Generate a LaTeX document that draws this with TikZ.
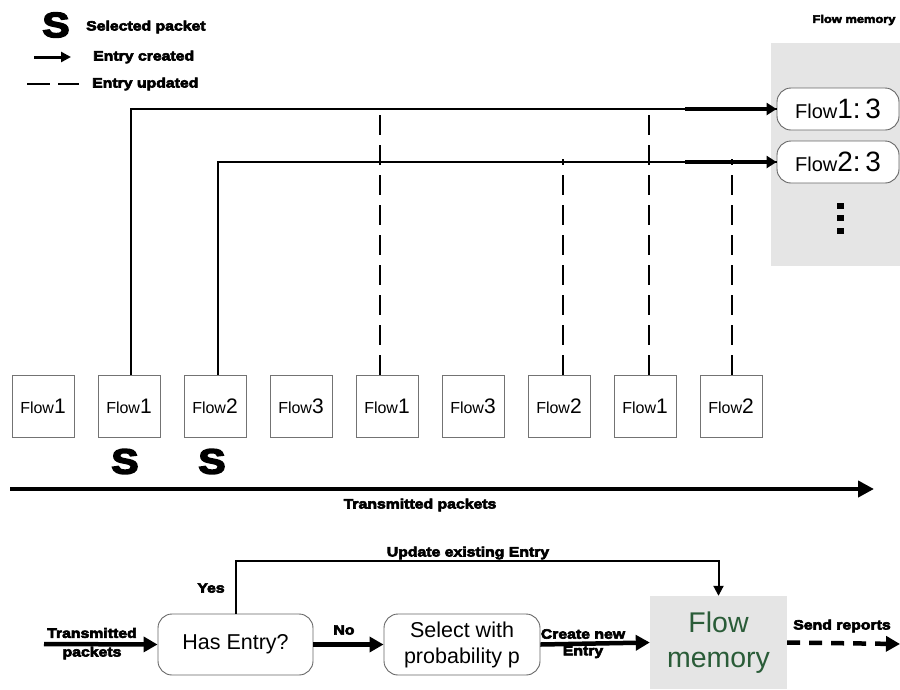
\documentclass[tikz,border=0pt]{standalone}
\usepackage{fontspec}
\setmainfont{Liberation Sans}
\newfontfamily\heavy{Liberation Sans}[UprightFont=*-Bold, FakeStretch=1.17, FakeBold=4.5]
\usetikzlibrary{arrows.meta,calc}

% "Flow" in a small size followed by a larger digit
\newcommand\flowtxt[3]{{\fontsize{#1}{#1}\selectfont Flow}{\fontsize{#2}{#2}\selectfont #3}}

\definecolor{memgreen}{RGB}{42,92,56}

\tikzset{
  pkt/.style={draw=black!55, line width=0.9pt, minimum width=62pt, minimum height=62pt, inner sep=0pt},
  lbl/.style={font=\heavy\fontsize{13.5}{14}\selectfont, inner sep=0pt},
  bigS/.style={font=\heavy\fontsize{35}{35}\selectfont, inner sep=0pt},
  memslot/.style={draw=black!60, fill=white, rounded corners=14pt, line width=0.9pt,
    minimum width=122pt, minimum height=42pt, inner sep=0pt},
  stage/.style={draw=black!60, rounded corners=14pt, line width=0.9pt,
    minimum width=155pt, minimum height=61pt, inner sep=0pt, align=center,
    font=\fontsize{21.5}{26}\selectfont},
  thin/.style={line width=1.8pt},
  upd/.style={line width=2.2pt, dash pattern=on 20pt off 10pt},
  fat/.style={line width=4.5pt, -{Triangle[length=14pt,width=15pt]}},
  mid/.style={line width=3.2pt, -{Triangle[length=10pt,width=12pt]}},
}

\begin{document}
\begin{tikzpicture}[x=1pt,y=-1pt]
\useasboundingbox (0,0) rectangle (900,689);

% ---------- legend ----------
\node[bigS] (legS) at (56,25) {S};
\node[lbl, anchor=west] (legSel) at (86,27) {Selected packet};
\coordinate (legA1) at (34,57);
\coordinate (legA2) at (71,57);
\draw[line width=3pt, -{Triangle[length=10pt,width=10pt]}] (legA1) -- (legA2);
\node[lbl, anchor=west] (legCre) at (93,57) {Entry created};
\coordinate (legD1) at (27,84);
\coordinate (legD2) at (79,84);
\draw[line width=2pt, dash pattern=on 23pt off 8pt] (legD1) -- (legD2);
\node[lbl, anchor=west] (legUpd) at (92,84) {Entry updated};

% ---------- flow memory (top) ----------
\node[font=\heavy\fontsize{11}{12}\selectfont, inner sep=0pt] (memtitle) at (854,20) {Flow memory};
\fill[black!10] (771,43) rectangle (900,266);
\node[memslot] (f1) at (838,109) {\flowtxt{20}{28}{1:\,3}};
\node[memslot] (f2) at (838,162) {\flowtxt{20}{28}{2:\,3}};
\foreach \yy in {203,215,228}
  \fill (837,\yy) rectangle (844,\yy+6);

% ---------- packet stream ----------
\foreach \i/\n in {1/1,2/1,3/2,4/3,5/1,6/3,7/2,8/1,9/2}
  \node[pkt] (p\i) at ({43+86*(\i-1)},406) {\flowtxt{16}{21}{\n}};

\node[bigS] (s1) at (125,461.5) {S};
\node[bigS] (s2) at (212,461.5) {S};

\coordinate (tl0) at (10,489);
\coordinate (tl1) at (874,489);
\draw[line width=4.5pt, -{Triangle[length=16pt,width=16pt]}] (tl0) -- (tl1);
\node[lbl] (tltxt) at (420,505) {Transmitted packets};

% entries created
\coordinate (c1) at ($(p2.north)+(2,0)$);
\coordinate (c2) at ($(p3.north)+(3,0)$);
\draw[thin] (c1) |- (f1.west);
\draw[thin] (c2) |- (f2.west);
\draw[mid] (685,109) -- (f1.west);
\draw[mid] (685,162) -- (f2.west);

% entries updated
\draw[upd] ($(p5.north)+(-7,0)$) -- ++(0,-270);
\draw[upd] ($(p7.north)+(4,0)$) -- ++(0,-216);
\draw[upd] ($(p8.north)+(4,0)$) -- ++(0,-270);
\draw[upd] ($(p9.north)+(1,0)$) -- ++(0,-216);

% ---------- processing pipeline ----------
\node[stage] (has) at (235.5,644.5) {Has Entry?};
\node[stage, minimum width=156pt] (sel) at (462,644.5) {Select with\\probability p};
\node[fill=black!10, minimum width=137pt, minimum height=93pt, inner sep=0pt, align=center,
      text=memgreen, font=\fontsize{28.5}{35}\selectfont] (mem) at (718.5,642.5) {Flow\\memory};

\coordinate (in) at (44,644);
\coordinate (out) at (900,644);
\draw[fat] (in) -- (has.west);
\node[lbl] (intxt1) at (92,633) {Transmitted};
\node[lbl] (intxt2) at (92,653) {packets};

\draw[fat] (has.east) -- (sel.west);
\node[lbl] (notxt) at (344,630) {No};

\draw[fat] (sel.east) -- (mem.west);
\node[lbl] (crtxt1) at (583,634) {Create new};
\node[lbl] (crtxt2) at (583,652) {Entry};

\draw[fat, dash pattern=on 13pt off 9pt] (mem.east) -- (out);
\node[lbl] (sndtxt) at (842,626) {Send reports};

\coordinate (yestop) at (236,561);
\draw[line width=2pt, -{Triangle[length=10pt,width=10pt]}] (has.north -| yestop) -- (yestop) -| (mem.north);
\node[lbl] (yestxt) at (211,588) {Yes};
\node[lbl] (updtxt) at (468,553) {Update existing Entry};
\end{tikzpicture}
\end{document}
